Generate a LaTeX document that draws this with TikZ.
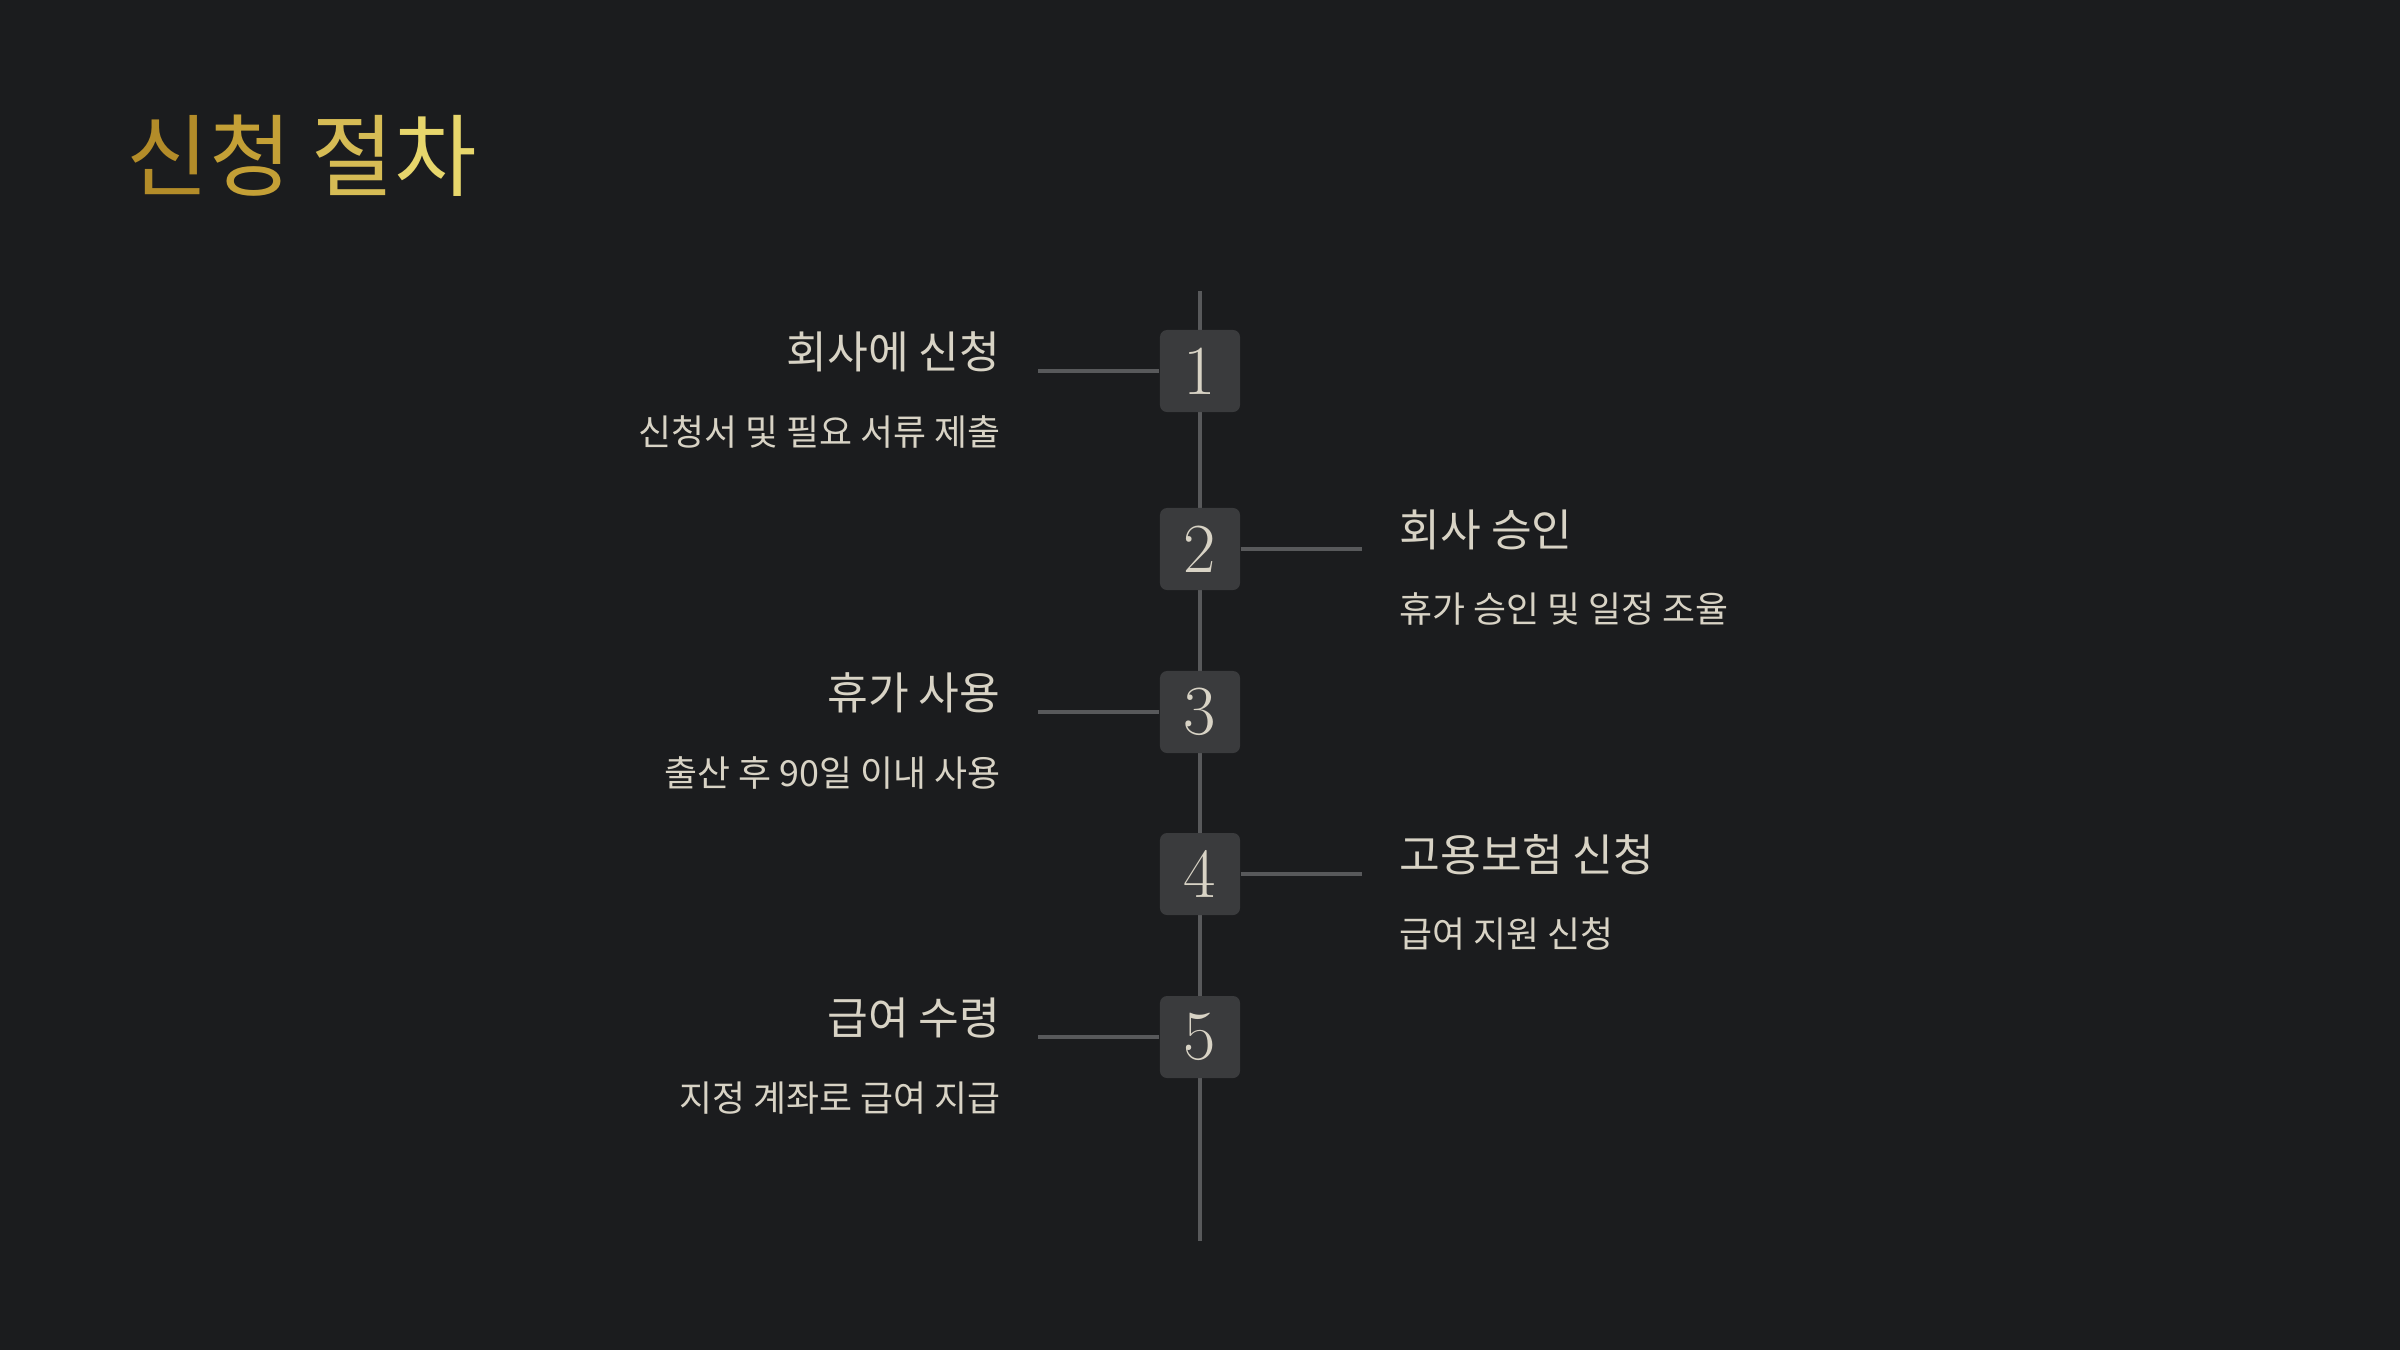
\documentclass[tikz,border=0pt]{standalone}
\usepackage{fontspec}
\newfontfamily\krfont{Noto Sans CJK KR}
\usetikzlibrary{positioning,calc}

\definecolor{bgdark}{HTML}{1B1C1E}
\definecolor{boxgray}{HTML}{3A3B3D}
\definecolor{linegray}{HTML}{58595B}
\definecolor{textbeige}{HTML}{D8D3C5}
\definecolor{goldA}{HTML}{B38C29}
\definecolor{goldB}{HTML}{C4A036}
\definecolor{goldC}{HTML}{D6BC55}
\definecolor{goldD}{HTML}{E7D66C}

\begin{document}
\begin{tikzpicture}[
    x=0.01cm, y=-0.01cm,
    stepbox/.style={
        fill=boxgray,
        rounded corners=2pt,
        minimum width=0.8cm,
        minimum height=0.82cm,
        inner sep=0pt,
        text=textbeige,
        font=\fontsize{20}{20}\selectfont
    },
    heading/.style={
        font=\krfont\fontsize{12.6}{14}\selectfont,
        text=textbeige,
        inner sep=0pt
    },
    desc/.style={
        font=\krfont\fontsize{10.2}{12}\selectfont,
        text=textbeige,
        inner sep=0pt
    },
    rail/.style={
        draw=linegray,
        line width=1.1pt
    },
    link/.style={
        draw=linegray,
        line width=1.1pt
    }
]

% Dimensions
\def\railx{1200}
\def\leftx{1001}
\def\rightx{1399}

% Background
\fill[bgdark] (0,0) rectangle (2400,1350);

% Title
\node[anchor=west, inner sep=0pt, font=\krfont\fontsize{25.5}{28}\selectfont] (title) at (126,156) {%
    \textcolor{goldA}{신}\textcolor{goldB}{청} \textcolor{goldC}{절}\textcolor{goldD}{차}};

% Timeline rail
\coordinate (railtop) at (\railx,291);
\coordinate (railbot) at (\railx,1241);
\draw[rail] (railtop) -- (railbot);

% Numbered boxes
\foreach \i/\ypos in {1/371, 2/549, 3/712, 4/874, 5/1037} {
    \node[stepbox] (step\i) at (\railx,\ypos) {\i};
}

% Steps on the left
\foreach \i/\ypos/\head/\sub in {1/371/회사에 신청/신청서 및 필요 서류 제출,
                                3/712/휴가 사용/출산 후 90일 이내 사용,
                                5/1037/급여 수령/지정 계좌로 급여 지급} {
    \coordinate (tick\i) at (1038,\ypos);
    \draw[link] (tick\i) -- (step\i.west);
    \node[heading, anchor=east] (head\i) at (\leftx,\ypos-19) {\head};
    \node[desc, anchor=east] (desc\i) at (\leftx,\ypos+61) {\sub};
}

% Steps on the right
\foreach \i/\ypos/\head/\sub in {2/549/회사 승인/휴가 승인 및 일정 조율,
                                4/874/고용보험 신청/급여 지원 신청} {
    \coordinate (tick\i) at (1362,\ypos);
    \draw[link] (step\i.east) -- (tick\i);
    \node[heading, anchor=west] (head\i) at (\rightx,\ypos-19) {\head};
    \node[desc, anchor=west] (desc\i) at (\rightx,\ypos+60) {\sub};
}

\end{tikzpicture}
\end{document}
